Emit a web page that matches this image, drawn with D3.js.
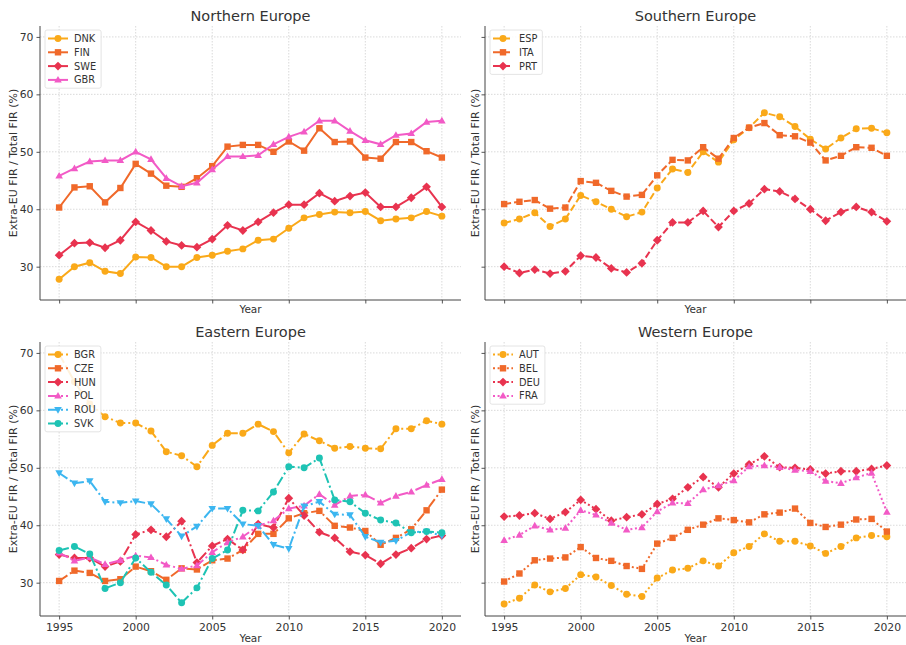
<!DOCTYPE html>
<html>
<head>
<meta charset="utf-8">
<script src="https://cdn.jsdelivr.net/npm/d3@7/dist/d3.min.js"></script>
<style>
  body { margin: 0; background: #fff; }
  text { font-family: "DejaVu Sans", sans-serif; fill: #333; }
</style>
</head>
<body>
<div id="chart"></div>
<script>
// data
var years = [1995, 1996, 1997, 1998, 1999, 2000, 2001, 2002, 2003, 2004, 2005, 2006, 2007,
             2008, 2009, 2010, 2011, 2012, 2013, 2014, 2015, 2016, 2017, 2018, 2019, 2020];

var DNK = [27.8, 30.0, 30.7, 29.2, 28.8, 31.7, 31.6, 30.0, 30.0, 31.6, 32.0, 32.7, 33.1, 34.6, 34.8, 36.7, 38.5, 39.1, 39.5, 39.4, 39.6, 38.0, 38.3, 38.5, 39.6, 38.8];
var FIN = [40.3, 43.8, 44.0, 41.2, 43.7, 47.9, 46.2, 44.1, 43.9, 45.4, 47.5, 50.9, 51.2, 51.2, 50.0, 51.8, 50.2, 54.1, 51.7, 51.8, 49.0, 48.8, 51.7, 51.7, 50.1, 49.0];
var SWE = [32.0, 34.1, 34.2, 33.3, 34.6, 37.8, 36.3, 34.4, 33.7, 33.4, 34.8, 37.2, 36.3, 37.8, 39.4, 40.8, 40.8, 42.8, 41.4, 42.3, 42.9, 40.4, 40.4, 42.0, 43.9, 40.4];
var GBR = [45.8, 47.1, 48.3, 48.5, 48.5, 50.0, 48.7, 45.4, 44.0, 44.6, 46.9, 49.2, 49.2, 49.4, 51.3, 52.6, 53.5, 55.4, 55.4, 53.6, 52.0, 51.3, 52.9, 53.2, 55.2, 55.4];

var ESP = [37.6, 38.3, 39.4, 37.0, 38.3, 42.4, 41.3, 40.0, 38.7, 39.5, 43.7, 47.0, 46.4, 50.0, 48.2, 52.1, 54.2, 56.8, 56.1, 54.4, 52.2, 50.5, 52.4, 54.0, 54.1, 53.3];
var ITA = [40.9, 41.3, 41.6, 40.1, 40.3, 44.9, 44.6, 43.2, 42.2, 42.5, 45.9, 48.6, 48.5, 50.8, 48.8, 52.4, 54.2, 55.0, 52.9, 52.7, 51.6, 48.5, 49.3, 50.8, 50.7, 49.3];
var PRT = [30.0, 28.9, 29.5, 28.8, 29.2, 31.9, 31.6, 29.7, 29.0, 30.6, 34.6, 37.7, 37.7, 39.7, 36.9, 39.7, 41.0, 43.5, 43.1, 41.8, 40.0, 38.0, 39.5, 40.4, 39.5, 37.9];

var BGR = [69.8, 65.0, 61.1, 58.9, 57.8, 57.8, 56.4, 52.8, 52.1, 50.2, 53.9, 56.0, 56.0, 57.6, 56.3, 52.6, 55.9, 54.7, 53.4, 53.7, 53.4, 53.3, 56.8, 56.8, 58.2, 57.6];
var CZE = [30.3, 32.1, 31.7, 30.3, 30.6, 32.8, 32.0, 30.5, 32.5, 32.3, 33.9, 34.2, 35.7, 38.5, 38.5, 41.2, 42.1, 42.5, 39.9, 39.6, 39.0, 36.6, 37.8, 39.3, 42.6, 46.2];
var HUN = [34.9, 34.3, 34.3, 32.8, 33.7, 38.4, 39.2, 38.0, 40.7, 33.5, 36.4, 37.6, 35.7, 40.2, 39.6, 44.7, 41.7, 38.8, 37.8, 35.4, 34.8, 33.3, 34.9, 36.0, 37.6, 38.2];
var POL = [35.2, 33.8, 34.4, 33.2, 33.9, 34.7, 34.4, 33.1, 32.4, 33.0, 35.3, 37.0, 38.0, 39.9, 40.8, 42.9, 43.4, 45.4, 43.5, 45.1, 45.3, 43.9, 45.1, 45.8, 47.0, 48.0];
var ROU = [49.1, 47.3, 47.7, 44.1, 43.9, 44.2, 43.7, 41.1, 38.1, 39.8, 42.9, 42.9, 40.2, 39.9, 36.6, 35.9, 43.3, 44.1, 41.9, 41.8, 38.0, 37.0, 37.3, 38.8, 38.9, 38.2];
var SVK = [35.6, 36.3, 35.0, 29.0, 30.0, 34.3, 31.8, 29.6, 26.5, 29.1, 34.2, 35.7, 42.6, 42.5, 45.8, 50.2, 50.0, 51.7, 44.4, 44.1, 42.1, 40.9, 40.4, 38.7, 38.9, 38.7];

var AUT = [26.3, 27.3, 29.6, 28.4, 29.0, 31.4, 31.0, 29.5, 28.0, 27.6, 30.8, 32.2, 32.5, 33.8, 32.9, 35.2, 36.3, 38.5, 37.2, 37.2, 36.4, 35.1, 36.3, 37.8, 38.2, 38.0];
var BEL = [30.2, 31.6, 33.9, 34.2, 34.4, 36.2, 34.3, 33.8, 32.9, 32.4, 36.8, 37.8, 39.2, 40.1, 41.2, 40.9, 40.5, 41.9, 42.2, 42.9, 40.4, 39.7, 40.1, 41.0, 41.1, 38.9];
var DEU = [41.5, 41.7, 42.1, 41.1, 42.3, 44.4, 42.8, 40.8, 41.4, 41.9, 43.7, 44.6, 46.6, 48.4, 46.6, 49.0, 50.6, 52.0, 50.1, 50.0, 49.7, 49.0, 49.4, 49.4, 49.8, 50.4];
var FRA = [37.4, 38.3, 39.9, 39.2, 39.5, 42.6, 41.8, 40.4, 39.2, 39.6, 42.4, 43.9, 43.8, 46.2, 46.9, 47.8, 50.2, 50.4, 50.1, 49.6, 49.4, 47.7, 47.3, 48.3, 49.1, 42.3];

var yTicks = [30, 40, 50, 60, 70];
var xTicks = [1995, 2000, 2005, 2010, 2015, 2020];

var series = {
    DNK: DNK, FIN: FIN, SWE: SWE, GBR: GBR,
    ESP: ESP, ITA: ITA, PRT: PRT,
    BGR: BGR, CZE: CZE, HUN: HUN, POL: POL, ROU: ROU, SVK: SVK,
    AUT: AUT, BEL: BEL, DEU: DEU, FRA: FRA
};

var colors = ["#FAA919", "#F0692A", "#E8334F", "#F25AC6", "#3CB6F0", "#1EC3B4"];
var markers = ["circle", "square", "diamond", "triUp", "triDown", "circle"];

var panels = [
    { title: "Northern Europe", names: ["DNK", "FIN", "SWE", "GBR"], dash: null,
      left: 40, right: 461, top: 26, bottom: 300, yLabels: true, xLabels: false },
    { title: "Southern Europe", names: ["ESP", "ITA", "PRT"], dash: "7,3",
      left: 485, right: 906, top: 26, bottom: 300, yLabels: false, xLabels: false },
    { title: "Eastern Europe", names: ["BGR", "CZE", "HUN", "POL", "ROU", "SVK"], dash: "10,3,2,3",
      left: 40, right: 461, top: 342, bottom: 616, yLabels: true, xLabels: true },
    { title: "Western Europe", names: ["AUT", "BEL", "DEU", "FRA"], dash: "2,2.6",
      left: 485, right: 906, top: 342, bottom: 616, yLabels: false, xLabels: true }
];

var svg = d3.select("#chart").append("svg")
    .attr("width", 906)
    .attr("height", 645);

function markerPath(shape) {
    if (shape == "circle") return d3.symbol().type(d3.symbolCircle).size(38)();
    if (shape == "square") return "M-3.2,-3.2L3.2,-3.2L3.2,3.2L-3.2,3.2Z";
    if (shape == "diamond") return "M0,-4.4L4.4,0L0,4.4L-4.4,0Z";
    if (shape == "triUp") return "M0,-4L3.8,2.7L-3.8,2.7Z";
    return "M0,4L3.8,-2.7L-3.8,-2.7Z";
}

panels.forEach(function (p) {
    var x = d3.scaleLinear().domain([1993.75, 2021.25]).range([p.left, p.right]);
    var y = d3.scaleLinear().domain([24.2, 71.9]).range([p.bottom, p.top]);
    var g = svg.append("g");

    // grid
    g.selectAll(".gy").data(yTicks).enter().append("line")
        .attr("x1", p.left).attr("x2", p.right)
        .attr("y1", function (d) { return y(d); }).attr("y2", function (d) { return y(d); })
        .attr("stroke", "#d0d0d0").attr("stroke-width", 0.8).attr("stroke-dasharray", "1.5,1.5");
    g.selectAll(".gx").data(xTicks).enter().append("line")
        .attr("y1", p.top).attr("y2", p.bottom)
        .attr("x1", function (d) { return x(d); }).attr("x2", function (d) { return x(d); })
        .attr("stroke", "#d0d0d0").attr("stroke-width", 0.8).attr("stroke-dasharray", "1.5,1.5");

    // lines + markers
    var line = d3.line()
        .x(function (d, i) { return x(years[i]); })
        .y(function (d) { return y(d); });

    p.names.forEach(function (name, k) {
        var vals = series[name];
        g.append("path")
            .attr("d", line(vals))
            .attr("fill", "none")
            .attr("stroke", colors[k])
            .attr("stroke-width", 2)
            .attr("stroke-dasharray", p.dash);
        g.selectAll(".m" + name).data(vals).enter().append("path")
            .attr("d", markerPath(markers[k]))
            .attr("transform", function (d, i) { return "translate(" + x(years[i]) + "," + y(d) + ")"; })
            .attr("fill", colors[k]);
    });

    // axes
    var yAxis = d3.axisLeft(y).tickValues(yTicks).tickSize(3.5).tickPadding(3)
        .tickFormat(p.yLabels ? d3.format("d") : "");
    var xAxis = d3.axisBottom(x).tickValues(xTicks).tickSize(3.5).tickPadding(4)
        .tickFormat(p.xLabels ? d3.format("d") : "");
    var ya = g.append("g").attr("transform", "translate(" + p.left + ",0)").call(yAxis);
    var xa = g.append("g").attr("transform", "translate(0," + p.bottom + ")").call(xAxis);
    [ya, xa].forEach(function (a) {
        a.select(".domain").remove();
        a.selectAll(".tick line").attr("stroke", "#555");
        a.selectAll(".tick text").attr("fill", "#333").style("font-size", "10.8px")
            .style("font-family", "'DejaVu Sans', sans-serif");
    });

    // spines (left and bottom only)
    g.append("line").attr("x1", p.left).attr("x2", p.left).attr("y1", p.top).attr("y2", p.bottom)
        .attr("stroke", "#444").attr("stroke-width", 1);
    g.append("line").attr("x1", p.left).attr("x2", p.right).attr("y1", p.bottom).attr("y2", p.bottom)
        .attr("stroke", "#444").attr("stroke-width", 1);

    // title and labels
    g.append("text")
        .attr("x", (p.left + p.right) / 2).attr("y", p.top - 5)
        .attr("text-anchor", "middle").style("font-size", "14.5px")
        .text(p.title);
    g.append("text")
        .attr("x", (p.left + p.right) / 2).attr("y", p.bottom + (p.xLabels ? 26 : 13))
        .attr("text-anchor", "middle").style("font-size", "10.5px")
        .text("Year");
    g.append("text")
        .attr("transform", "translate(" + (p.left - (p.yLabels ? 23 : 6)) + "," + ((p.top + p.bottom) / 2) + ") rotate(-90)")
        .attr("text-anchor", "middle").style("font-size", "11px")
        .text("Extra-EU FIR / Total FIR (%)");

    // legend
    var lg = g.append("g").attr("transform", "translate(" + (p.left + 5) + "," + (p.top + 4) + ")");
    var box = lg.append("rect")
        .attr("rx", 2).attr("ry", 2)
        .attr("fill", "white").attr("fill-opacity", 0.85)
        .attr("stroke", "#ddd").attr("stroke-width", 0.8);
    var maxW = 0;
    p.names.forEach(function (name, k) {
        var cy = 8.5 + k * 13.8;
        lg.append("line").attr("x1", 3).attr("x2", 23).attr("y1", cy).attr("y2", cy)
            .attr("stroke", colors[k]).attr("stroke-width", 2)
            .attr("stroke-dasharray", p.dash);
        lg.append("path").attr("d", markerPath(markers[k]))
            .attr("transform", "translate(13," + cy + ")")
            .attr("fill", colors[k]);
        var t = lg.append("text").attr("x", 29).attr("y", cy + 3.4)
            .style("font-size", "9.8px").text(name);
        maxW = Math.max(maxW, t.node().getComputedTextLength());
    });
    box.attr("width", 29 + maxW + 5).attr("height", p.names.length * 13.8 + 3);
});
</script>
</body>
</html>
